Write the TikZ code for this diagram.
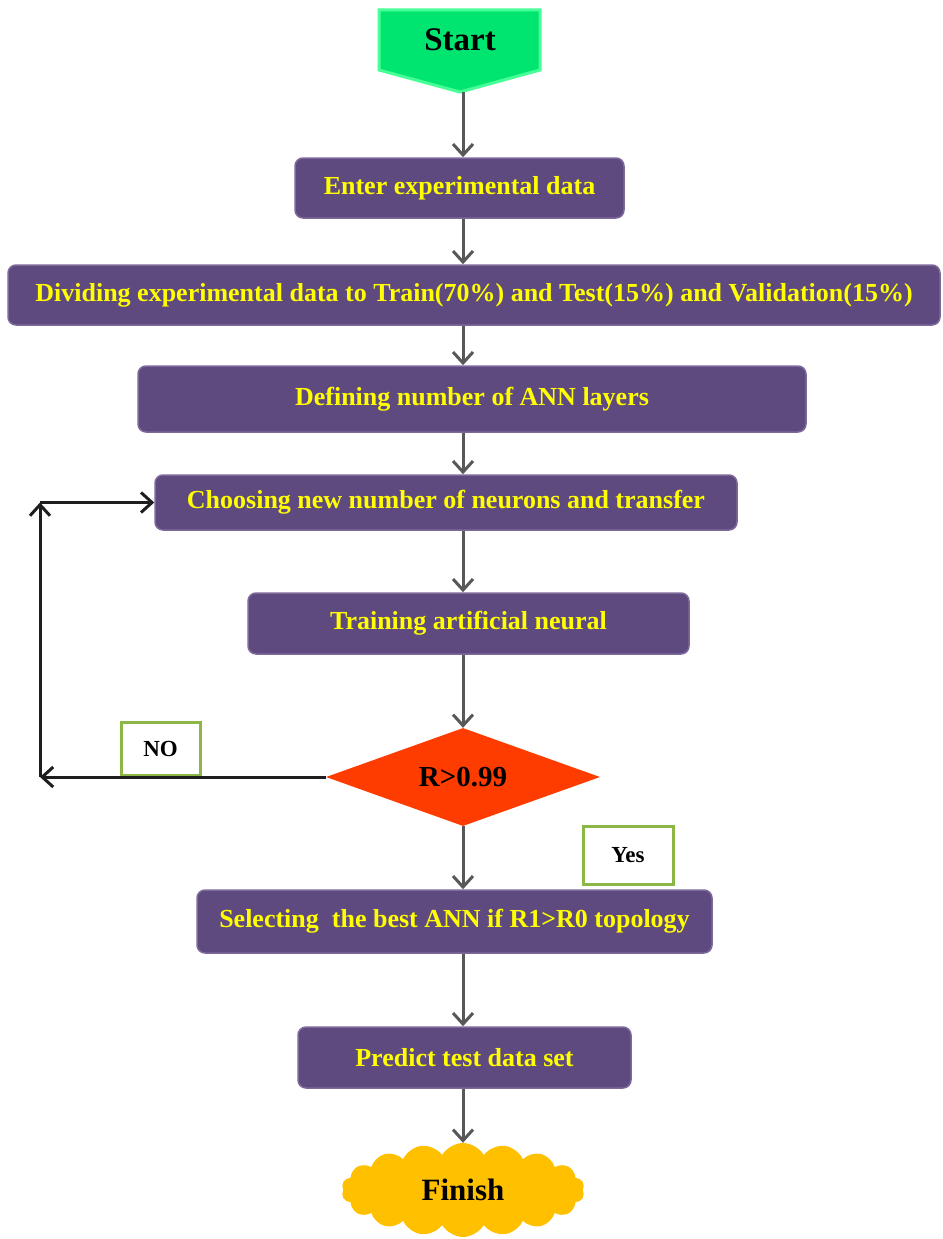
\documentclass[tikz,border=0pt]{standalone}
\usepackage{fontspec}
\setmainfont{Liberation Serif}
\usetikzlibrary{shapes.geometric,shapes.symbols,arrows.meta}
\definecolor{boxpurple}{RGB}{94,74,126}
\definecolor{boxedge}{RGB}{125,105,155}
\definecolor{txtyellow}{RGB}{255,255,0}
\definecolor{startgreen}{RGB}{0,228,112}
\definecolor{startedge}{RGB}{70,255,150}
\definecolor{diared}{RGB}{255,60,0}
\definecolor{cloudgold}{RGB}{255,192,0}
\definecolor{labelgreen}{RGB}{140,182,70}
\definecolor{arrowgray}{RGB}{88,88,88}
\definecolor{loopblack}{RGB}{30,30,30}
\begin{document}
\begin{tikzpicture}[x=1pt,y=-1pt,
  procbox/.style={rectangle, rounded corners=8pt, fill=boxpurple, draw=boxedge, line width=1.5pt,
    text=txtyellow, font=\fontsize{26}{30}\selectfont\bfseries, inner sep=0pt, align=center},
  flowarrow/.style={draw=arrowgray, line width=3pt, -{Straight Barb[length=11pt,width=20pt]}},
  looparrow/.style={draw=loopblack, line width=3pt, -{Straight Barb[length=11pt,width=20pt]}},
  labelbox/.style={rectangle, draw=labelgreen, line width=3pt, fill=white,
    font=\fontsize{23}{26}\selectfont\bfseries, inner sep=0pt}]
\path[use as bounding box] (0,0) rectangle (942,1239);
\coordinate (axis) at (463,0);
\coordinate (loopx) at (40,0);
% Start
\path[fill=startgreen, draw=startedge, line width=3pt]
  (379,10) -- (540,10) -- (540,70) -- (460,92) -- (379,70) -- cycle;
\node[font=\fontsize{33}{36}\selectfont\bfseries] (start) at (460,40) {Start};
\coordinate (starttip) at (463,92);
% process boxes
\node[procbox, minimum width=329pt, minimum height=60pt] (b1) at (459.5,188) {Enter experimental data};
\node[procbox, minimum width=932pt, minimum height=60pt] (b2) at (474,295) {Dividing experimental data to Train(70\%) and Test(15\%) and Validation(15\%)};
\node[procbox, minimum width=668pt, minimum height=66pt] (b3) at (472,399) {Defining number of ANN layers};
\node[procbox, minimum width=582pt, minimum height=55pt] (b4) at (446,502.5) {Choosing new number of neurons and transfer};
\node[procbox, minimum width=441pt, minimum height=61pt] (b5) at (468.5,623.5) {Training artificial neural};
\node[diamond, aspect=2.8, inner sep=0pt, minimum width=274pt, minimum height=98pt, fill=diared,
  font=\fontsize{29}{32}\selectfont\bfseries] (dia) at (463,777) {R>0.99};
\node[procbox, minimum width=515pt, minimum height=63pt] (b6) at (454.5,921.5) {Selecting~ the best ANN if R1>R0 topology};
\node[procbox, minimum width=333pt, minimum height=61pt] (b7) at (464.5,1057.5) {Predict test data set};
\node[cloud, cloud puffs=18, cloud puff arc=120, cloud ignores aspect, minimum width=243pt, minimum height=94pt,
  fill=cloudgold, inner sep=0pt, font=\fontsize{31}{34}\selectfont\bfseries] (finish) at (463,1190) {Finish};
% labels
\node[labelbox, minimum width=79pt, minimum height=53pt] (no) at (160.5,748.5) {NO};
\node[labelbox, minimum width=90pt, minimum height=58pt] (yes) at (628,855) {Yes};
% flow arrows
\draw[flowarrow] (starttip) -- (b1.north -| axis);
\draw[flowarrow] (b1.south -| axis) -- (b2.north -| axis);
\draw[flowarrow] (b2.south -| axis) -- (b3.north -| axis);
\draw[flowarrow] (b3.south -| axis) -- (b4.north -| axis);
\draw[flowarrow] (b4.south -| axis) -- (b5.north -| axis);
\draw[flowarrow] (b5.south -| axis) -- (dia.north);
\draw[flowarrow] (dia.south) -- (b6.north -| axis);
\draw[flowarrow] (b6.south -| axis) -- (b7.north -| axis);
\draw[flowarrow] (b7.south -| axis) -- (finish.north);
% loop back
\draw[looparrow] (dia.west) -- (dia.west -| loopx);
\draw[looparrow] (dia.west -| loopx) -- (b4.west -| loopx);
\draw[looparrow] (b4.west -| loopx) -- (b4.west);
\end{tikzpicture}
\end{document}
